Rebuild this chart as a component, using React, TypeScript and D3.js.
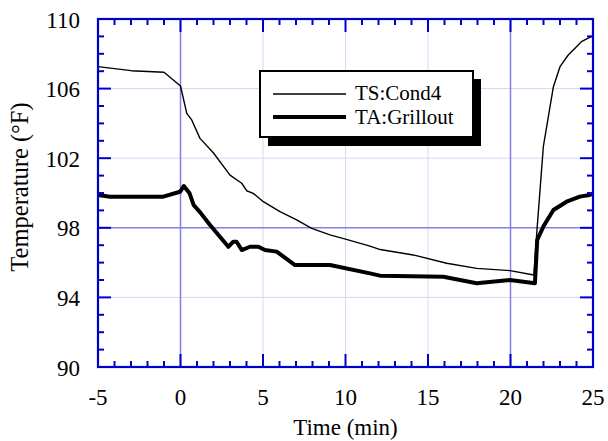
import React from "react";
import * as d3 from "d3";

const tsTime = [-5, -3, -1, 0, 0.38, 0.68, 1.18, 2.0, 3.0, 3.71, 4.01, 4.41, 5.02, 6.03, 7.04, 7.95, 9.06, 10, 11.48, 12.1, 14.1, 16.13, 17.95, 19.97, 21.42, 21.59, 21.99, 22.6, 23.0, 23.5, 24.0, 24.3, 24.8, 25];
const tsTemp = [107.26, 107.03, 106.94, 106.15, 104.58, 104.2, 103.14, 102.3, 101.03, 100.56, 100.13, 99.98, 99.5, 98.93, 98.45, 97.97, 97.59, 97.35, 96.95, 96.75, 96.44, 95.96, 95.67, 95.54, 95.29, 97.68, 102.66, 106.11, 107.26, 107.93, 108.4, 108.7, 108.95, 109.05];

const taTime = [-5, -4.27, -1.04, -0.03, 0.2, 0.55, 0.8, 1.18, 1.79, 2.39, 2.9, 3.2, 3.4, 3.71, 4.21, 4.72, 5.12, 5.83, 6.94, 9.06, 11.48, 12.09, 15.93, 17.95, 19.97, 21.48, 21.62, 21.99, 22.6, 23.4, 24.2, 24.8, 25];
const taTemp = [99.89, 99.79, 99.79, 100.07, 100.4, 99.98, 99.3, 98.9, 98.16, 97.49, 96.91, 97.2, 97.2, 96.72, 96.91, 96.91, 96.72, 96.63, 95.86, 95.86, 95.38, 95.25, 95.19, 94.81, 95.0, 94.81, 97.3, 98.07, 99.02, 99.5, 99.79, 99.89, 99.95];

const xTicks = [-5, 0, 5, 10, 15, 20, 25];
const yTicks = [90, 94, 98, 102, 106, 110];
const xMinor = d3.range(-5, 25.01, 1);
const yMinor = d3.range(90, 110.01, 1);
const xGridLight = [5, 10, 15];
const yGridLight = [94, 102, 106];
const xGridStrong = [0, 20];
const yGridStrong = [98];
const seriesNames = ["TS:Cond4", "TA:Grillout"];

const W = 608, H = 441;
const L = 98, R = 593, T = 19, B = 367;
const FONT = "Liberation Serif";
const AXIS = "#0000cc";

export default function App() {
  const x = d3.scaleLinear().domain([-5, 25]).range([L, R]);
  const y = d3.scaleLinear().domain([90, 110]).range([B, T]);
  const line = d3.line<[number, number]>().x(d => x(d[0])).y(d => y(d[1]));
  const ts = tsTime.map((t, i) => [t, tsTemp[i]] as [number, number]);
  const ta = taTime.map((t, i) => [t, taTemp[i]] as [number, number]);

  return (
    <svg width={W} height={H} style={{ position: "absolute", left: 0, top: 0, background: "#fff" }}>
      {xGridLight.map(v => <line key={"gx" + v} x1={x(v)} x2={x(v)} y1={T} y2={B} stroke="#d6d6f6" strokeWidth={1} />)}
      {yGridLight.map(v => <line key={"gy" + v} x1={L} x2={R} y1={y(v)} y2={y(v)} stroke="#d6d6f6" strokeWidth={1} />)}
      {xGridStrong.map(v => <line key={"sx" + v} x1={x(v)} x2={x(v)} y1={T} y2={B} stroke="#8080e6" strokeWidth={1.5} />)}
      {yGridStrong.map(v => <line key={"sy" + v} x1={L} x2={R} y1={y(v)} y2={y(v)} stroke="#8080e6" strokeWidth={1.5} />)}

      <path d={line(ts) || ""} fill="none" stroke="#000" strokeWidth={1.4} strokeLinejoin="round" />
      <path d={line(ta) || ""} fill="none" stroke="#000" strokeWidth={4} strokeLinejoin="round" />

      {xMinor.map(v => {
        const major = Math.round(v) % 5 === 0;
        const len = major ? 13 : 6;
        return (
          <g key={"xt" + v}>
            <line x1={x(v)} x2={x(v)} y1={B} y2={B - len} stroke={AXIS} strokeWidth={2} />
            <line x1={x(v)} x2={x(v)} y1={T} y2={T + len} stroke={AXIS} strokeWidth={2} />
          </g>
        );
      })}
      {yMinor.map(v => {
        const major = yTicks.includes(Math.round(v));
        const len = major ? 13 : 6;
        return (
          <g key={"yt" + v}>
            <line x1={L} x2={L + len} y1={y(v)} y2={y(v)} stroke={AXIS} strokeWidth={2} />
            <line x1={R} x2={R - len} y1={y(v)} y2={y(v)} stroke={AXIS} strokeWidth={2} />
          </g>
        );
      })}
      <rect x={L} y={T} width={R - L} height={B - T} fill="none" stroke={AXIS} strokeWidth={2.2} />

      <g fontFamily={FONT} fill="#000">
        {xTicks.map(v => (
          <text key={"xl" + v} x={x(v)} y={405} textAnchor="middle" fontSize={23}>{v}</text>
        ))}
        {yTicks.map(v => (
          <text key={"yl" + v} x={80} y={y(v) + 8.5} textAnchor="end" fontSize={23}>{v}</text>
        ))}
        <text x={(L + R) / 2} y={435} textAnchor="middle" fontSize={23}>Time (min)</text>
        <text transform={`translate(28,187) rotate(-90)`} textAnchor="middle" fontSize={24.5}>Temperature (°F)</text>
      </g>

      <g>
        <rect x={268} y={79} width={213} height={67} fill="#000" />
        <rect x={260} y={71} width={213} height={66} fill="#fff" stroke="#000" strokeWidth={2} />
        <line x1={273} x2={346} y1={94} y2={94} stroke="#000" strokeWidth={1.4} />
        <line x1={273} x2={346} y1={117} y2={117} stroke="#000" strokeWidth={4} />
        <g fontFamily={FONT} fill="#000">
          <text x={355} y={100} fontSize={21}>{seriesNames[0]}</text>
          <text x={355} y={124} fontSize={21}>{seriesNames[1]}</text>
        </g>
      </g>
    </svg>
  );
}
